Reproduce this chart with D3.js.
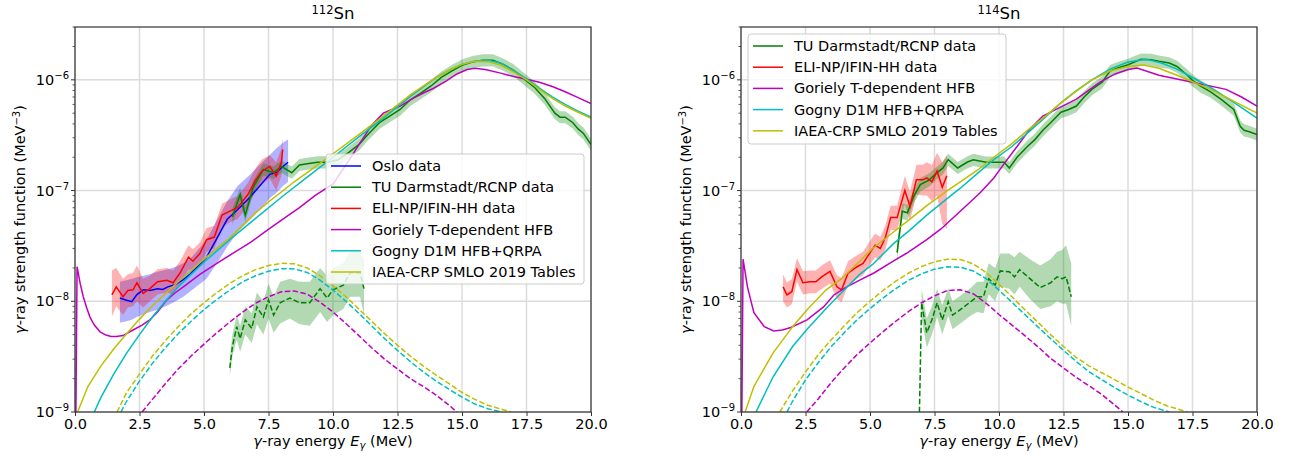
<!DOCTYPE html>
<html>
<head>
<meta charset="utf-8">
<script src="https://cdn.jsdelivr.net/npm/d3@7"></script>
<style>
  body { margin: 0; background: #fff; }
  text { font-family: "DejaVu Sans", sans-serif; fill: #000; }
</style>
</head>
<body>
<svg id="chart" width="1293" height="457"></svg>
<script>
// ---- data: [E (MeV), f (MeV^-3)] or [E, f, lo, hi] ----

const xTicks = [0, 2.5, 5, 7.5, 10, 12.5, 15, 17.5, 20];
const yDecades = [1e-9, 1e-8, 1e-7, 1e-6];

// 112Sn
const oslo112 = [
  [1.74,1.07e-8,6.4e-9,1.5e-8],[2.0,1.02e-8,6.6e-9,1.55e-8],[2.2,9.9e-9,6.8e-9,1.6e-8],
  [2.4,1.15e-8,7.2e-9,1.65e-8],[2.65,1.27e-8,7.6e-9,1.7e-8],[2.9,1.25e-8,8.0e-9,1.75e-8],
  [3.2,1.3e-8,8.4e-9,1.85e-8],[3.4,1.28e-8,8.8e-9,1.9e-8],[3.6,1.35e-8,9.2e-9,1.95e-8],
  [3.9,1.42e-8,1.0e-8,2.05e-8],[4.2,1.57e-8,1.1e-8,2.2e-8],[4.45,1.75e-8,1.22e-8,2.4e-8],
  [4.7,2.0e-8,1.35e-8,2.8e-8],[5.1,2.5e-8,1.6e-8,3.6e-8],[5.5,3.7e-8,2.2e-8,5.4e-8],
  [5.9,5.5e-8,3.1e-8,8.0e-8],[6.3,6.7e-8,4.2e-8,1.1e-7],[6.8,8.8e-8,5.5e-8,1.4e-7],
  [7.2,1.13e-7,6.8e-8,1.75e-7],[7.55,1.4e-7,8.5e-8,2.1e-7],[7.8,1.45e-7,9.5e-8,2.4e-7],
  [8.06,1.65e-7,1.1e-7,2.7e-7],[8.26,1.8e-7,1.2e-7,2.9e-7]
];
const eli112 = [
  [1.43,1.14e-8,7.3e-9,1.9e-8],[1.6,1.35e-8,9.0e-9,2.0e-8],[1.86,1.1e-8,7.5e-9,1.6e-8],
  [2.05,1.25e-8,8.8e-9,1.75e-8],[2.25,1.27e-8,9.0e-9,1.8e-8],[2.4,1.47e-8,1.0e-8,2.1e-8],
  [2.64,1.18e-8,8.8e-9,1.6e-8],[2.9,1.3e-8,1.0e-8,1.7e-8],[3.2,1.5e-8,1.15e-8,1.95e-8],
  [3.56,1.55e-8,1.2e-8,2.0e-8],[3.8,1.47e-8,1.15e-8,1.9e-8],[4.07,1.8e-8,1.4e-8,2.3e-8],
  [4.4,2.5e-8,1.95e-8,3.2e-8],[4.57,2.3e-8,1.8e-8,2.95e-8],[4.84,2.7e-8,2.1e-8,3.4e-8],
  [5.1,3.6e-8,2.8e-8,4.6e-8],[5.4,3.8e-8,3.0e-8,4.8e-8],[5.7,6.0e-8,4.7e-8,7.6e-8],
  [6.1,6.7e-8,5.3e-8,8.5e-8],[6.3,7.0e-8,5.5e-8,8.9e-8],[6.7,9.2e-8,7.2e-8,1.17e-7],
  [7.0,1.25e-7,9.8e-8,1.6e-7],[7.25,1.5e-7,1.17e-7,1.92e-7],[7.55,1.65e-7,1.28e-7,2.1e-7],
  [7.8,1.35e-7,1.0e-7,1.8e-7],[8.0,1.8e-7,1.35e-7,2.4e-7],[8.05,2.35e-7,1.75e-7,3.0e-7]
];
const tu112 = [
  [6.1,5.8e-8,4.9e-8,6.9e-8],[6.4,9.2e-8,8.0e-8,1.06e-7],[6.6,6.0e-8,5.2e-8,7.0e-8],
  [6.9,1.06e-7,9.2e-8,1.22e-7],[7.3,1.55e-7,1.36e-7,1.76e-7],[7.7,1.45e-7,1.27e-7,1.65e-7],
  [8.0,1.65e-7,1.45e-7,1.87e-7],[8.4,1.45e-7,1.28e-7,1.65e-7],[8.7,1.7e-7,1.5e-7,1.93e-7],
  [9.0,1.75e-7,1.54e-7,1.98e-7],[9.4,1.8e-7,1.58e-7,2.04e-7],[9.8,1.8e-7,1.58e-7,2.04e-7],
  [10.2,1.9e-7,1.67e-7,2.15e-7],[10.6,2.2e-7,1.94e-7,2.49e-7],[11.0,2.6e-7,2.29e-7,2.94e-7],
  [11.4,3.3e-7,2.9e-7,3.73e-7],[11.8,4.1e-7,3.6e-7,4.63e-7],[12.2,4.7e-7,4.14e-7,5.31e-7],
  [12.6,5.4e-7,4.75e-7,6.1e-7],[13.0,6.6e-7,5.81e-7,7.46e-7],[13.4,7.6e-7,6.69e-7,8.59e-7],
  [13.8,8.8e-7,7.74e-7,9.94e-7],[14.2,1.05e-6,9.24e-7,1.19e-6],[14.6,1.2e-6,1.06e-6,1.36e-6],
  [15.0,1.35e-6,1.19e-6,1.53e-6],[15.4,1.45e-6,1.28e-6,1.64e-6],[15.8,1.5e-6,1.32e-6,1.7e-6],
  [16.2,1.5e-6,1.32e-6,1.7e-6],[16.6,1.38e-6,1.21e-6,1.56e-6],[17.0,1.22e-6,1.07e-6,1.38e-6],
  [17.4,1.02e-6,8.98e-7,1.15e-6],[17.8,8.6e-7,7.57e-7,9.72e-7],[18.2,6.8e-7,5.98e-7,7.68e-7],
  [18.6,5.0e-7,4.4e-7,5.65e-7],[18.8,4.6e-7,4.05e-7,5.2e-7],[19.0,4.6e-7,4.05e-7,5.2e-7],
  [19.3,4.1e-7,3.61e-7,4.63e-7],[19.5,3.6e-7,3.17e-7,4.07e-7],[19.7,3.3e-7,2.9e-7,3.73e-7],
  [20.0,2.6e-7,2.29e-7,2.94e-7]
];
const tuLow112 = [
  [6.0,2.5e-9,2.1e-9,3.0e-9],[6.1,3.9e-9,3.2e-9,5.0e-9],[6.27,5.9e-9,4.5e-9,7.5e-9],
  [6.4,4.6e-9,3.5e-9,6.0e-9],[6.6,6.8e-9,5.0e-9,9.0e-9],[6.85,5.7e-9,4.2e-9,7.8e-9],
  [7.05,8.9e-9,6.2e-9,1.2e-8],[7.3,7.2e-9,5.0e-9,1.0e-8],[7.5,1.03e-8,7.0e-9,1.45e-8],
  [7.7,7.5e-9,5.2e-9,1.1e-8],[7.95,9.7e-9,6.3e-9,1.5e-8],[8.33,1.07e-8,7.0e-9,1.6e-8],
  [8.7,9.7e-9,6.2e-9,1.5e-8],[9.1,9.7e-9,6.0e-9,1.5e-8],[9.5,1.3e-8,8.0e-9,2.0e-8],
  [9.77,1.07e-8,6.5e-9,1.7e-8],[10.0,1.27e-8,7.5e-9,2.0e-8],[10.4,1.4e-8,8.5e-9,2.2e-8],
  [10.66,1.8e-8,1.1e-8,2.8e-8],[11.05,1.8e-8,1.1e-8,2.8e-8],[11.2,1.3e-8,7.5e-9,2.4e-8]
];
const goriely112 = [
  [0.0,1e-10],[0.08,2.05e-8],[0.2,1.45e-8],[0.32,1.1e-8],[0.45,8.8e-9],[0.58,7.2e-9],
  [0.75,6.1e-9],[0.97,5.3e-9],[1.2,4.95e-9],[1.4,4.8e-9],[1.6,4.8e-9],[1.86,4.9e-9],
  [2.25,5.5e-9],[2.6,6.1e-9],[2.9,6.8e-9],[3.2,8.0e-9],[3.56,1.03e-8],[3.9,1.2e-8],
  [4.2,1.35e-8],[4.84,1.75e-8],[5.5,2.2e-8],[6.1,2.7e-8],[6.8,3.4e-8],[7.4,4.3e-8],
  [8.1,5.6e-8],[8.7,7.0e-8],[9.3,9.0e-8],[10.0,1.15e-7],[10.5,1.7e-7],[11.05,2.7e-7],
  [11.5,3.9e-7],[11.95,5.0e-7],[12.6,5.8e-7],[13.1,6.8e-7],[13.5,7.6e-7],[13.9,8.4e-7],
  [14.4,9.8e-7],[14.8,1.13e-6],[15.2,1.24e-6],[15.5,1.27e-6],[15.9,1.24e-6],[16.5,1.15e-6],
  [17.0,1.07e-6],[17.5,1.01e-6],[18.0,9.5e-7],[18.5,8.7e-7],[19.0,7.8e-7],[19.5,6.9e-7],
  [20.0,6.1e-7]
];
const gogny112 = [
  [0.75,1e-9],[1.0,1.35e-9],[1.5,2.2e-9],[2.0,3.4e-9],[2.5,5.0e-9],[3.0,7.2e-9],
  [3.5,1.0e-8],[4.0,1.35e-8],[4.5,1.75e-8],[5.0,2.25e-8],[5.5,2.85e-8],[6.0,3.6e-8],
  [7.0,5.6e-8],[8.0,8.7e-8],[9.0,1.32e-7],[10.0,2.0e-7],[11.0,3.05e-7],[12.0,4.6e-7],
  [13.0,7.1e-7],[14.0,1.05e-6],[14.5,1.22e-6],[15.0,1.38e-6],[15.5,1.48e-6],[16.0,1.5e-6],
  [16.5,1.42e-6],[17.0,1.22e-6],[17.5,1.02e-6],[18.0,8.4e-7],[18.5,7.0e-7],[19.0,6.0e-7],
  [19.5,5.2e-7],[20.0,4.6e-7]
];
const smlo112 = [
  [0.1,1e-9],[0.5,1.7e-9],[1.0,2.6e-9],[1.5,3.7e-9],[2.0,5.1e-9],[2.5,6.9e-9],[3.0,9.1e-9],
  [3.5,1.17e-8],[4.0,1.5e-8],[4.5,1.9e-8],[5.0,2.4e-8],[5.5,3.0e-8],[6.0,3.75e-8],
  [6.5,4.85e-8],[7.0,6.3e-8],[7.5,7.9e-8],[8.0,9.7e-8],[8.5,1.2e-7],[9.0,1.45e-7],
  [9.5,1.77e-7],[10.0,2.15e-7],[11.0,3.2e-7],[12.0,4.8e-7],[13.0,7.3e-7],[14.0,1.05e-6],
  [14.5,1.22e-6],[15.0,1.38e-6],[15.5,1.47e-6],[16.0,1.46e-6],[16.5,1.36e-6],[17.0,1.18e-6],
  [17.5,1.0e-6],[18.0,8.2e-7],[18.5,6.8e-7],[19.0,5.8e-7],[19.5,5.1e-7],[20.0,4.5e-7]
];
const gorielyLow112 = [
  [2.6,1e-9],[3,1.3e-9],[3.5,1.8e-9],[4,2.45e-9],[4.5,3.2e-9],[5,4.1e-9],[5.5,5.2e-9],
  [6,6.5e-9],[6.5,8.0e-9],[7,9.6e-9],[7.5,1.1e-8],[8,1.22e-8],[8.5,1.24e-8],[9,1.16e-8],
  [9.5,9.8e-9],[10,8.0e-9],[10.5,6.3e-9],[11,4.9e-9],[11.5,3.8e-9],[12,3.0e-9],
  [12.5,2.45e-9],[13,2.0e-9],[13.5,1.7e-9],[14,1.42e-9],[14.5,1.15e-9],[14.8,1e-9]
];
const gognyLow112 = [
  [1.78,1e-9],[2,1.25e-9],[2.5,1.9e-9],[3,2.75e-9],[3.5,3.8e-9],[4,5.1e-9],[4.5,6.6e-9],
  [5,8.4e-9],[5.5,1.04e-8],[6,1.26e-8],[6.5,1.5e-8],[7,1.7e-8],[7.5,1.87e-8],[8,1.97e-8],
  [8.5,1.96e-8],[9,1.82e-8],[9.5,1.55e-8],[10,1.26e-8],[10.5,1.0e-8],[11,7.8e-9],
  [11.5,6.0e-9],[12,4.6e-9],[12.5,3.6e-9],[13,2.85e-9],[13.5,2.3e-9],[14,1.9e-9],
  [14.5,1.6e-9],[15,1.36e-9],[15.5,1.18e-9],[16,1.07e-9],[16.55,1e-9]
];
const smloLow112 = [
  [1.63,1e-9],[2,1.5e-9],[2.5,2.2e-9],[3,3.2e-9],[3.5,4.4e-9],[4,5.9e-9],[4.5,7.7e-9],
  [5,9.7e-9],[5.5,1.2e-8],[6,1.45e-8],[6.5,1.7e-8],[7,1.93e-8],[7.5,2.1e-8],[8,2.2e-8],
  [8.5,2.18e-8],[9,2.0e-8],[9.5,1.7e-8],[10,1.38e-8],[10.5,1.1e-8],[11,8.5e-9],
  [11.5,6.6e-9],[12,5.1e-9],[12.5,4.0e-9],[13,3.2e-9],[13.5,2.6e-9],[14,2.15e-9],
  [14.5,1.8e-9],[15,1.5e-9],[15.5,1.3e-9],[16,1.15e-9],[16.9,1e-9]
];

// 114Sn
const tu114 = [
  [6.05,2.75e-8,2.3e-8,3.3e-8],[6.25,6.5e-8,5.5e-8,7.7e-8],[6.45,6.3e-8,5.4e-8,7.4e-8],
  [6.7,8.9e-8,7.7e-8,1.03e-7],[6.95,1.13e-7,9.8e-8,1.3e-7],[7.3,1.25e-7,1.09e-7,1.43e-7],
  [7.6,1.45e-7,1.27e-7,1.65e-7],[7.83,1.6e-7,1.4e-7,1.82e-7],[8.03,1.9e-7,1.67e-7,2.15e-7],
  [8.4,1.6e-7,1.41e-7,1.81e-7],[8.76,1.8e-7,1.58e-7,2.03e-7],[9.0,1.9e-7,1.67e-7,2.15e-7],
  [9.5,1.8e-7,1.58e-7,2.03e-7],[10.2,1.8e-7,1.58e-7,2.03e-7],[10.4,1.6e-7,1.41e-7,1.81e-7],
  [10.7,2.0e-7,1.76e-7,2.26e-7],[11.1,2.5e-7,2.2e-7,2.83e-7],[11.4,2.9e-7,2.55e-7,3.28e-7],
  [11.7,3.5e-7,3.08e-7,3.96e-7],[12.0,4.1e-7,3.61e-7,4.63e-7],[12.4,5.1e-7,4.49e-7,5.76e-7],
  [12.7,5.4e-7,4.75e-7,6.1e-7],[13.0,5.8e-7,5.1e-7,6.55e-7],[13.3,7.0e-7,6.16e-7,7.91e-7],
  [13.6,8.2e-7,7.22e-7,9.27e-7],[14.0,9.5e-7,8.36e-7,1.07e-6],[14.3,1.2e-6,1.06e-6,1.36e-6],
  [14.6,1.28e-6,1.13e-6,1.45e-6],[15.0,1.37e-6,1.21e-6,1.55e-6],[15.5,1.53e-6,1.35e-6,1.73e-6],
  [15.9,1.52e-6,1.34e-6,1.72e-6],[16.2,1.47e-6,1.29e-6,1.66e-6],[16.6,1.42e-6,1.25e-6,1.6e-6],
  [16.9,1.32e-6,1.16e-6,1.49e-6],[17.3,1.1e-6,9.7e-7,1.24e-6],[17.5,9.9e-7,8.7e-7,1.12e-6],
  [17.8,8.8e-7,7.7e-7,9.9e-7],[18.2,7.8e-7,6.9e-7,8.8e-7],[18.6,6.7e-7,5.9e-7,7.6e-7],
  [19.1,5.4e-7,4.75e-7,6.1e-7],[19.35,3.8e-7,3.34e-7,4.3e-7],[19.5,3.5e-7,3.08e-7,3.96e-7],
  [19.7,3.4e-7,3.0e-7,3.84e-7],[20.0,3.2e-7,2.82e-7,3.62e-7]
];
const eli114 = [
  [1.63,1.35e-8,1.0e-8,1.75e-8],[1.78,1.14e-8,8.8e-9,1.48e-8],[1.97,1.22e-8,9.4e-9,1.58e-8],
  [2.17,1.93e-8,1.5e-8,2.45e-8],[2.4,1.47e-8,1.15e-8,1.88e-8],[2.67,1.5e-8,1.18e-8,1.9e-8],
  [2.9,1.5e-8,1.18e-8,1.9e-8],[3.14,1.67e-8,1.3e-8,2.12e-8],[3.45,1.86e-8,1.45e-8,2.35e-8],
  [3.72,1.35e-8,1.05e-8,1.72e-8],[3.9,1.27e-8,9.8e-9,1.62e-8],[4.15,1.8e-8,1.4e-8,2.3e-8],
  [4.5,2.05e-8,1.6e-8,2.6e-8],[4.73,2.2e-8,1.72e-8,2.8e-8],[5.0,2.75e-8,2.15e-8,3.5e-8],
  [5.2,3.2e-8,2.5e-8,4.1e-8],[5.4,3.0e-8,2.35e-8,3.8e-8],[5.6,3.8e-8,2.95e-8,4.85e-8],
  [5.8,5.7e-8,4.4e-8,7.3e-8],[6.05,5.7e-8,4.4e-8,7.3e-8],[6.35,1.0e-7,7.5e-8,1.35e-7],
  [6.55,7.2e-8,5.3e-8,9.8e-8],[6.8,1.25e-7,9.2e-8,1.7e-7],[7.05,1.25e-7,9.0e-8,1.72e-7],
  [7.2,1.3e-7,9.0e-8,1.8e-7],[7.4,1.2e-7,8.0e-8,1.7e-7],[7.6,1.5e-7,9.0e-8,2.2e-7],
  [7.8,1.07e-7,5.0e-8,1.8e-7],[7.98,1.36e-7,4.5e-8,2.1e-7]
];
const tuLow114 = [
  [6.83,1e-10,1e-10,1e-10],[7.0,9.7e-9,7.0e-9,1.3e-8],[7.2,5.2e-9,3.8e-9,7.0e-9],
  [7.4,6.8e-9,5.0e-9,9.0e-9],[7.6,9.7e-9,7.2e-9,1.3e-8],[7.8,6.8e-9,5.0e-9,9.2e-9],
  [8.03,9.9e-9,7.4e-9,1.32e-8],[8.2,7.5e-9,5.6e-9,1.0e-8],[8.5,8.4e-9,6.3e-9,1.12e-8],
  [8.9,9.9e-9,7.4e-9,1.32e-8],[9.15,1.1e-8,8.0e-9,1.5e-8],[9.4,1.1e-8,7.8e-9,1.5e-8],
  [9.6,1.6e-8,1.15e-8,2.2e-8],[9.85,1.4e-8,1.0e-8,2.0e-8],[10.05,1.88e-8,1.35e-8,2.7e-8],
  [10.4,1.85e-8,1.3e-8,2.7e-8],[10.6,1.66e-8,1.15e-8,2.5e-8],[10.8,1.93e-8,1.35e-8,2.8e-8],
  [11.2,1.6e-8,1.05e-8,2.4e-8],[11.6,1.33e-8,8.5e-9,2.1e-8],[12.0,1.47e-8,9.0e-9,2.4e-8],
  [12.25,1.66e-8,1.0e-8,2.8e-8],[12.45,1.6e-8,9.5e-9,2.9e-8],[12.6,1.66e-8,9.5e-9,3.2e-8],
  [12.8,1.1e-8,6.0e-9,2.2e-8]
];
const goriely114 = [
  [0.0,1e-10],[0.08,2.4e-8],[0.25,1.35e-8],[0.5,7.9e-9],[0.9,5.9e-9],[1.27,5.4e-9],
  [1.6,5.5e-9],[1.93,5.8e-9],[2.56,6.8e-9],[3.2,8.9e-9],[3.6,1.14e-8],[4.1,1.35e-8],
  [4.6,1.55e-8],[5.15,1.8e-8],[5.9,2.3e-8],[6.4,2.7e-8],[7.2,3.6e-8],[7.75,4.5e-8],
  [8.5,6.5e-8],[9.26,9.5e-8],[9.8,1.3e-7],[10.2,1.75e-7],[10.7,2.5e-7],[11.2,3.6e-7],
  [11.7,4.7e-7],[12.4,5.7e-7],[13.0,6.7e-7],[13.9,9.5e-7],[14.5,1.13e-6],[15.0,1.24e-6],
  [15.35,1.28e-6],[16.2,1.1e-6],[17.5,9.5e-7],[18.8,8.2e-7],[19.4,7.0e-7],[20.0,5.8e-7]
];
const gogny114 = [
  [0.58,1e-9],[1.24,2.07e-9],[2.0,3.9e-9],[2.56,5.6e-9],[3.3,8.6e-9],[3.9,1.2e-8],
  [4.6,1.75e-8],[5.1,2.15e-8],[5.9,3.3e-8],[6.5,4.3e-8],[7.2,6.0e-8],[8.0,8.5e-8],
  [8.5,1.05e-7],[9.2,1.45e-7],[9.8,1.9e-7],[10.5,2.5e-7],[11.1,3.3e-7],[11.8,4.6e-7],
  [12.4,6.2e-7],[13.0,8.0e-7],[13.6,1.0e-6],[14.3,1.25e-6],[15.0,1.45e-6],[15.7,1.53e-6],
  [16.3,1.42e-6],[16.9,1.25e-6],[17.5,1.05e-6],[18.2,8.5e-7],[19.0,6.5e-7],[20.0,4.5e-7]
];
const smlo114 = [
  [0.16,1e-9],[0.5,1.7e-9],[1.24,3.4e-9],[2.0,5.9e-9],[2.56,8.4e-9],[3.3,1.27e-8],
  [3.9,1.6e-8],[4.6,2.3e-8],[5.1,3.0e-8],[5.9,4.2e-8],[6.5,5.4e-8],[7.2,7.3e-8],
  [8.0,1.0e-7],[8.5,1.2e-7],[9.2,1.55e-7],[9.8,2.0e-7],[10.5,2.65e-7],[11.1,3.5e-7],
  [11.8,4.7e-7],[12.4,6.2e-7],[13.0,7.9e-7],[13.6,1.0e-6],[14.3,1.2e-6],[15.0,1.32e-6],
  [15.6,1.36e-6],[16.2,1.27e-6],[16.9,1.1e-6],[17.5,9.6e-7],[18.2,8.2e-7],[19.0,6.6e-7],
  [20.0,5.0e-7]
];
const gorielyLow114 = [
  [2.55,1e-9],[3,1.32e-9],[3.5,1.85e-9],[4,2.5e-9],[4.5,3.3e-9],[5,4.2e-9],[5.5,5.3e-9],
  [6,6.6e-9],[6.5,8.1e-9],[7,9.7e-9],[7.5,1.12e-8],[8,1.25e-8],[8.5,1.27e-8],[9,1.17e-8],
  [9.5,9.6e-9],[10,7.6e-9],[10.5,6.1e-9],[11,4.9e-9],[11.5,3.9e-9],[12,3.05e-9],
  [12.5,2.5e-9],[13,2.05e-9],[13.5,1.72e-9],[14,1.43e-9],[14.5,1.15e-9],[14.8,1e-9]
];
const gognyLow114 = [
  [1.78,1e-9],[2,1.25e-9],[2.5,1.95e-9],[3,2.8e-9],[3.5,3.9e-9],[4,5.2e-9],[4.5,6.8e-9],
  [5,8.6e-9],[5.5,1.07e-8],[6,1.3e-8],[6.5,1.55e-8],[7,1.77e-8],[7.5,1.95e-8],[8,2.05e-8],
  [8.5,2.03e-8],[9,1.88e-8],[9.5,1.6e-8],[10,1.26e-8],[10.5,9.8e-9],[11,7.6e-9],
  [11.5,5.9e-9],[12,4.6e-9],[12.5,3.6e-9],[13,2.85e-9],[13.5,2.3e-9],[14,1.95e-9],
  [14.5,1.65e-9],[15,1.42e-9],[15.5,1.24e-9],[16,1.1e-9],[16.6,1e-9]
];
const smloLow114 = [
  [1.5,1e-9],[2,1.55e-9],[2.5,2.3e-9],[3,3.3e-9],[3.5,4.5e-9],[4,6.0e-9],[4.5,7.9e-9],
  [5,1.0e-8],[5.5,1.25e-8],[6,1.52e-8],[6.5,1.8e-8],[7,2.06e-8],[7.5,2.27e-8],[8,2.4e-8],
  [8.5,2.38e-8],[9,2.18e-8],[9.5,1.82e-8],[10,1.42e-8],[10.5,1.1e-8],[11,8.4e-9],
  [11.5,6.5e-9],[12,5.0e-9],[12.5,3.9e-9],[13,3.1e-9],[13.5,2.6e-9],[14,2.25e-9],
  [14.5,1.95e-9],[15,1.68e-9],[15.5,1.47e-9],[16,1.28e-9],[16.5,1.14e-9],[17.3,1e-9]
];

const colors = {
  oslo: '#0000ff', tu: '#008000', eli: '#ff0000',
  goriely: '#bf00bf', gogny: '#00bfbf', smlo: '#bfbf00'
};
const labels = {
  oslo: 'Oslo data', tu: 'TU Darmstadt/RCNP data', eli: 'ELI-NP/IFIN-HH data',
  goriely: 'Goriely T-dependent HFB', gogny: 'Gogny D1M HFB+QRPA', smlo: 'IAEA-CRP SMLO 2019 Tables'
};

const FS = 14.5;   // main font size
const FS_SUP = 10; // superscript size

const svg = d3.select('#chart');

function drawPanel(p) {
  const x = d3.scaleLinear().domain([0, 20]).range([p.left, p.left + 516]);
  const y = d3.scaleLog().domain([1e-9, 3e-6]).range([412, 27]);
  const g = svg.append('g');

  // grid
  g.selectAll('.gx').data(xTicks).enter().append('line')
    .attr('x1', d => x(d)).attr('x2', d => x(d)).attr('y1', 27).attr('y2', 412)
    .attr('stroke', '#dcdcdc').attr('stroke-width', 1.5);
  g.selectAll('.gy').data(yDecades).enter().append('line')
    .attr('x1', p.left).attr('x2', p.left + 516).attr('y1', d => y(d)).attr('y2', d => y(d))
    .attr('stroke', '#dcdcdc').attr('stroke-width', 1.5);

  // clip
  const clipId = 'clip' + p.id;
  svg.append('clipPath').attr('id', clipId).append('rect')
    .attr('x', p.left).attr('y', 27).attr('width', 516).attr('height', 385);
  const plot = g.append('g').attr('clip-path', `url(#${clipId})`);

  const area = d3.area().x(d => x(d[0])).y0(d => y(d[2])).y1(d => y(d[3]));
  const line = d3.line().x(d => x(d[0])).y(d => y(d[1]));

  p.bands.forEach(b => {
    plot.append('path').datum(b.data).attr('d', area)
      .attr('fill', b.color).attr('fill-opacity', 0.3).attr('stroke', 'none');
  });
  p.lines.forEach(l => {
    plot.append('path').datum(l.data).attr('d', line)
      .attr('fill', 'none').attr('stroke', l.color).attr('stroke-width', 1.5)
      .attr('stroke-dasharray', l.dashed ? '5.5,2.4' : null);
  });

  // spines
  g.append('rect').attr('x', p.left).attr('y', 27).attr('width', 516).attr('height', 385)
    .attr('fill', 'none').attr('stroke', '#333').attr('stroke-width', 1.2);

  // x axis
  const xa = g.append('g').attr('transform', 'translate(0,412)')
    .call(d3.axisBottom(x).tickValues(xTicks).tickFormat(d3.format('.1f')).tickSize(4).tickPadding(3));
  xa.select('.domain').remove();
  xa.selectAll('line').attr('stroke', '#333');
  xa.selectAll('text').attr('font-size', FS).attr('font-family', 'DejaVu Sans').attr('fill', '#000');

  // y axis: minor ticks
  const minors = [];
  for (let dec = -9; dec <= -6; dec++) {
    for (let k = 2; k <= 9; k++) {
      const v = k * Math.pow(10, dec);
      if (v <= 3e-6) minors.push(v);
    }
  }
  g.selectAll('.ymin').data(minors).enter().append('line')
    .attr('x1', p.left - 2.5).attr('x2', p.left).attr('y1', d => y(d)).attr('y2', d => y(d))
    .attr('stroke', '#333').attr('stroke-width', 0.8);
  g.selectAll('.ymaj').data(yDecades).enter().append('line')
    .attr('x1', p.left - 4).attr('x2', p.left).attr('y1', d => y(d)).attr('y2', d => y(d))
    .attr('stroke', '#333').attr('stroke-width', 1);
  const yl = g.selectAll('.ylab').data(yDecades).enter().append('text')
    .attr('x', p.left - 6).attr('y', d => y(d) + 5).attr('text-anchor', 'end')
    .attr('font-size', FS);
  yl.append('tspan').text('10');
  yl.append('tspan').attr('dy', -6).attr('font-size', FS_SUP).text(d => '\u2212' + Math.round(-Math.log10(d)));

  // axis labels
  const xl = g.append('text').attr('x', p.left + 258).attr('y', 446)
    .attr('text-anchor', 'middle').attr('font-size', FS);
  xl.append('tspan').attr('font-style', 'italic').text('\u03b3');
  xl.append('tspan').text('-ray energy ');
  xl.append('tspan').attr('font-style', 'italic').text('E');
  xl.append('tspan').attr('font-style', 'italic').attr('font-size', FS_SUP).attr('dy', 3).text('\u03b3');
  xl.append('tspan').attr('dy', -3).text(' (MeV)');

  const yt = g.append('text')
    .attr('transform', `translate(${p.left - 50},219.5) rotate(-90)`)
    .attr('text-anchor', 'middle').attr('font-size', FS);
  yt.append('tspan').attr('font-style', 'italic').text('\u03b3');
  yt.append('tspan').text('-ray strength function (MeV');
  yt.append('tspan').attr('dy', -5).attr('font-size', FS_SUP).text('\u22123');
  yt.append('tspan').attr('dy', 5).text(')');

  // title
  const tt = g.append('text').attr('x', p.left + 258).attr('y', 19)
    .attr('text-anchor', 'middle').attr('font-size', 16.5);
  tt.append('tspan').attr('font-size', 11.5).attr('dy', -5).text(p.mass);
  tt.append('tspan').attr('dy', 5).text('Sn');

  // legend
  const lg = g.append('g').attr('transform', `translate(${p.legend.x},${p.legend.y})`);
  lg.append('rect').attr('width', p.legend.w).attr('height', p.legend.h).attr('rx', 3)
    .attr('fill', '#fff').attr('fill-opacity', 0.8).attr('stroke', '#cccccc').attr('stroke-width', 1);
  p.legend.keys.forEach((k, i) => {
    const cy = 12 + i * 21.2;
    lg.append('line').attr('x1', 5).attr('x2', 35).attr('y1', cy).attr('y2', cy)
      .attr('stroke', colors[k]).attr('stroke-width', 1.5);
    lg.append('text').attr('x', 46).attr('y', cy + 5).attr('font-size', FS).text(labels[k]);
  });
}

drawPanel({
  id: 'a', left: 75, mass: '112',
  bands: [
    { data: oslo112, color: colors.oslo },
    { data: eli112, color: colors.eli },
    { data: tu112, color: colors.tu },
    { data: tuLow112, color: colors.tu }
  ],
  lines: [
    { data: oslo112, color: colors.oslo },
    { data: tu112, color: colors.tu },
    { data: eli112, color: colors.eli },
    { data: goriely112, color: colors.goriely },
    { data: gogny112, color: colors.gogny },
    { data: smlo112, color: colors.smlo },
    { data: tuLow112, color: colors.tu, dashed: true },
    { data: gorielyLow112, color: colors.goriely, dashed: true },
    { data: gognyLow112, color: colors.gogny, dashed: true },
    { data: smloLow112, color: colors.smlo, dashed: true }
  ],
  legend: { x: 326, y: 154, w: 258, h: 130, keys: ['oslo', 'tu', 'eli', 'goriely', 'gogny', 'smlo'] }
});

drawPanel({
  id: 'b', left: 741, mass: '114',
  bands: [
    { data: eli114, color: colors.eli },
    { data: tu114, color: colors.tu },
    { data: tuLow114.slice(1), color: colors.tu }
  ],
  lines: [
    { data: tu114, color: colors.tu },
    { data: eli114, color: colors.eli },
    { data: goriely114, color: colors.goriely },
    { data: gogny114, color: colors.gogny },
    { data: smlo114, color: colors.smlo },
    { data: tuLow114, color: colors.tu, dashed: true },
    { data: gorielyLow114, color: colors.goriely, dashed: true },
    { data: gognyLow114, color: colors.gogny, dashed: true },
    { data: smloLow114, color: colors.smlo, dashed: true }
  ],
  legend: { x: 748, y: 34, w: 258, h: 110, keys: ['tu', 'eli', 'goriely', 'gogny', 'smlo'] }
});
</script>
</body>
</html>
